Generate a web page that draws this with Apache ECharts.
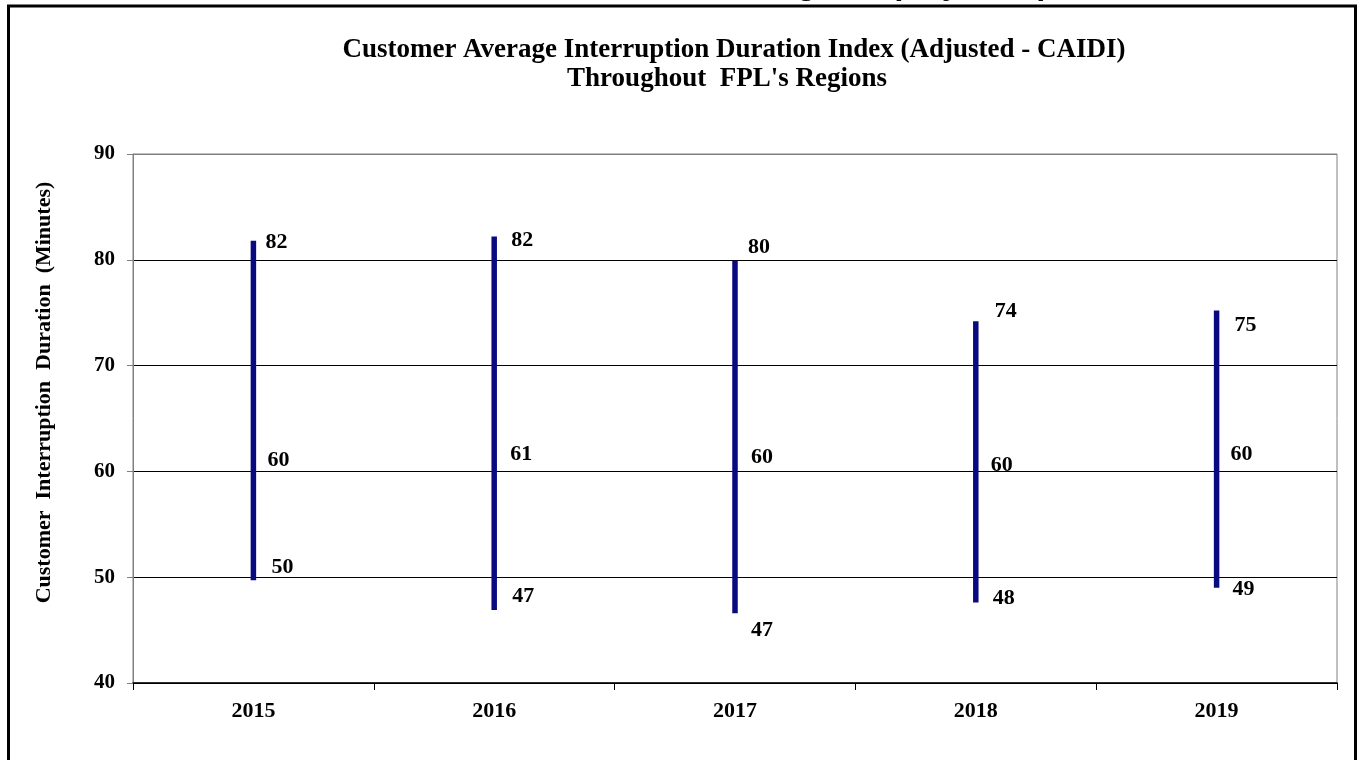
<!DOCTYPE html>
<html>
<head>
<meta charset="utf-8">
<script src="https://cdn.jsdelivr.net/npm/echarts@6/dist/echarts.min.js"></script>
<style>
html,body{margin:0;padding:0;background:#fff;}
#chart{width:1359px;height:760px;}
</style>
</head>
<body>
<div id="chart"></div>
<script>
// ---- data ----
const years = ['2015', '2016', '2017', '2018', '2019'];
const highValues = [81.8, 82.2, 79.9, 74.2, 75.2];
const avgValues = [60, 61, 60, 60, 60];
const lowValues = [49.7, 46.9, 46.6, 47.6, 49.0];
const yMin = 40, yMax = 90, yStep = 10;
const titleLine1 = 'Customer Average Interruption Duration Index (Adjusted - CAIDI)';
const titleLine2 = "Throughout  FPL's Regions";
const topCutText = 'Regions (Adjusted)';
const yAxisTitle = 'Customer  Interruption  Duration  (Minutes)';

// ---- label layout (pixel offsets, not data) ----
const highLabelOffsets = [[12, 2], [17, 4], [13, -14], [19, -10], [18, 15]];
const avgLabelOffsets = [[14, -11], [16, -7], [16, -14], [15, -6], [14, -17]];
const lowLabelOffsets = [[18, -13], [18, -14], [16, 17], [17, -4], [16, 2]];

const serif = '"Liberation Serif", "Times New Roman", serif';
const navy = '#0a0a80';
const labelFont = 'bold 22px ' + serif;

const chart = echarts.init(document.getElementById('chart'), null, { renderer: 'canvas' });
chart.setOption({
  animation: false,
  backgroundColor: '#fff',
  grid: {
    left: 133, right: 22, top: 154, bottom: 77,
    show: true, borderColor: '#808080', borderWidth: 1, backgroundColor: 'transparent'
  },
  graphic: [
    {
      type: 'text', x: 1049, y: -15, z: 1,
      style: { text: topCutText, font: 'bold 32px "Liberation Sans", Arial, sans-serif', fill: '#000', align: 'right', verticalAlign: 'middle' }
    },
    {
      type: 'rect', shape: { x: 8.5, y: 6, width: 1347, height: 800 },
      style: { fill: 'none', stroke: '#000', lineWidth: 3 }, z: 10
    },
    {
      type: 'text', x: 734, y: 50,
      style: { text: titleLine1, font: 'bold 27px ' + serif, fill: '#000', align: 'center', verticalAlign: 'middle' }
    },
    {
      type: 'text', x: 727, y: 79,
      style: { text: titleLine2, font: 'bold 27px ' + serif, fill: '#000', align: 'center', verticalAlign: 'middle' }
    }
  ],
  xAxis: {
    type: 'category',
    data: years,
    boundaryGap: true,
    axisLine: { show: true, lineStyle: { color: '#000', width: 1.5 } },
    axisTick: { show: true, length: 7, inside: false, lineStyle: { color: '#000' } },
    axisLabel: { fontFamily: serif, fontWeight: 'bold', fontSize: 22, color: '#000', margin: 17 },
    splitLine: { show: false }
  },
  yAxis: {
    type: 'value',
    min: yMin, max: yMax, interval: yStep,
    name: yAxisTitle,
    nameLocation: 'middle',
    nameRotate: 90,
    nameGap: 78,
    nameTextStyle: { fontFamily: serif, fontWeight: 'bold', fontSize: 22, color: '#000', padding: [0, 0, 0, 52] },
    axisLine: { show: true, lineStyle: { color: '#808080', width: 1 } },
    axisTick: { show: true, length: 6, lineStyle: { color: '#808080' } },
    axisLabel: { fontFamily: serif, fontWeight: 'bold', fontSize: 21, color: '#000', margin: 18 },
    splitLine: { show: true, lineStyle: { color: ['#000', '#000', '#000', '#000', '#000', '#808080'], width: 1 } }
  },
  series: [
    {
      name: 'CAIDI',
      type: 'custom',
      silent: true,
      z: 3,
      encode: { x: 0, y: [1, 2, 3] },
      data: years.map((y, i) => [i, highValues[i], avgValues[i], lowValues[i]]),
      renderItem: function (params, api) {
        const i = params.dataIndex;
        const x = api.value(0);
        const hi = api.value(1), av = api.value(2), lo = api.value(3);
        const pH = api.coord([x, hi]);
        const pA = api.coord([x, av]);
        const pL = api.coord([x, lo]);
        function label(p, v, off) {
          return {
            type: 'text', x: p[0] + off[0], y: p[1] + off[1], z2: 10,
            style: { text: String(Math.round(v)), font: labelFont, fill: '#000', align: 'left', verticalAlign: 'middle' }
          };
        }
        return {
          type: 'group',
          children: [
            {
              type: 'line',
              shape: { x1: pH[0], y1: pH[1], x2: pL[0], y2: pL[1] },
              style: { stroke: navy, lineWidth: 5.5 }
            },
            label(pH, hi, highLabelOffsets[i]),
            label(pA, av, avgLabelOffsets[i]),
            label(pL, lo, lowLabelOffsets[i])
          ]
        };
      }
    }
  ]
});
</script>
</body>
</html>
